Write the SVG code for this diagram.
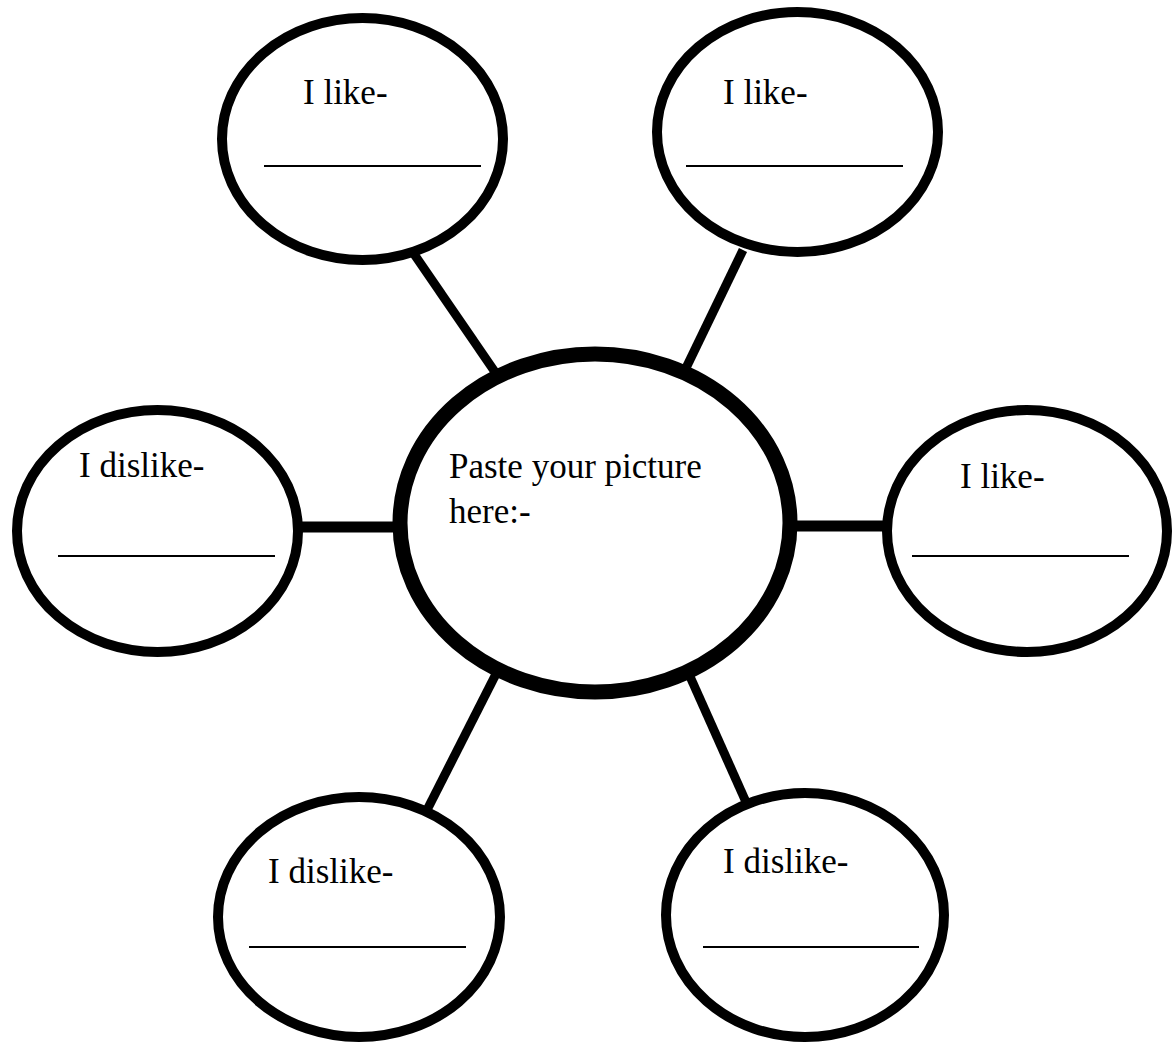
<svg xmlns="http://www.w3.org/2000/svg" width="1174" height="1043" viewBox="0 0 1174 1043">
<style>
.node{fill:#fff;stroke:#000;stroke-width:10}
.center{fill:#fff;stroke:#000;stroke-width:15}
.lbl{font-family:"Liberation Serif","Times New Roman",serif;font-size:35px;fill:#000}
.blank{stroke:#000;stroke-width:2}
.conn{stroke:#000;stroke-width:9;fill:none}
.hconn{stroke:#000;stroke-width:11;fill:none}
</style>
<rect width="1174" height="1043" fill="#fff"/>
<g id="connectors">
<line class="conn" x1="414" y1="254" x2="495" y2="372"/>
<line class="conn" x1="743" y1="250" x2="686" y2="368"/>
<line class="hconn" x1="296" y1="527" x2="400" y2="527"/>
<line class="hconn" x1="790" y1="526" x2="888" y2="526"/>
<line class="conn" x1="497" y1="672" x2="428" y2="808"/>
<line class="conn" x1="688" y1="672" x2="746" y2="802"/>
</g>
<g id="center">
<ellipse class="center" cx="595" cy="523" rx="195" ry="169"/>
<text class="lbl" x="449" y="478">Paste your picture</text>
<text class="lbl" x="449" y="523">here:-</text>
</g>
<g id="like-top-left">
<ellipse class="node" cx="362.5" cy="139" rx="140.5" ry="121"/>
<text class="lbl" x="303" y="104">I like-</text>
<line class="blank" x1="264" y1="166" x2="481" y2="166"/>
</g>
<g id="like-top-right">
<ellipse class="node" cx="797.5" cy="132" rx="140.5" ry="120"/>
<text class="lbl" x="723" y="104">I like-</text>
<line class="blank" x1="686" y1="166" x2="903" y2="166"/>
</g>
<g id="dislike-left">
<ellipse class="node" cx="157.5" cy="531" rx="140.5" ry="121"/>
<text class="lbl" x="79" y="477">I dislike-</text>
<line class="blank" x1="58" y1="556" x2="275" y2="556"/>
</g>
<g id="like-right">
<ellipse class="node" cx="1027" cy="531" rx="140" ry="121"/>
<text class="lbl" x="960" y="488">I like-</text>
<line class="blank" x1="912" y1="556" x2="1129" y2="556"/>
</g>
<g id="dislike-bottom-left">
<ellipse class="node" cx="359" cy="917" rx="141" ry="120"/>
<text class="lbl" x="268" y="883">I dislike-</text>
<line class="blank" x1="249" y1="947" x2="466" y2="947"/>
</g>
<g id="dislike-bottom-right">
<ellipse class="node" cx="805" cy="915" rx="139" ry="122"/>
<text class="lbl" x="723" y="873">I dislike-</text>
<line class="blank" x1="703" y1="947" x2="919" y2="947"/>
</g>
</svg>
